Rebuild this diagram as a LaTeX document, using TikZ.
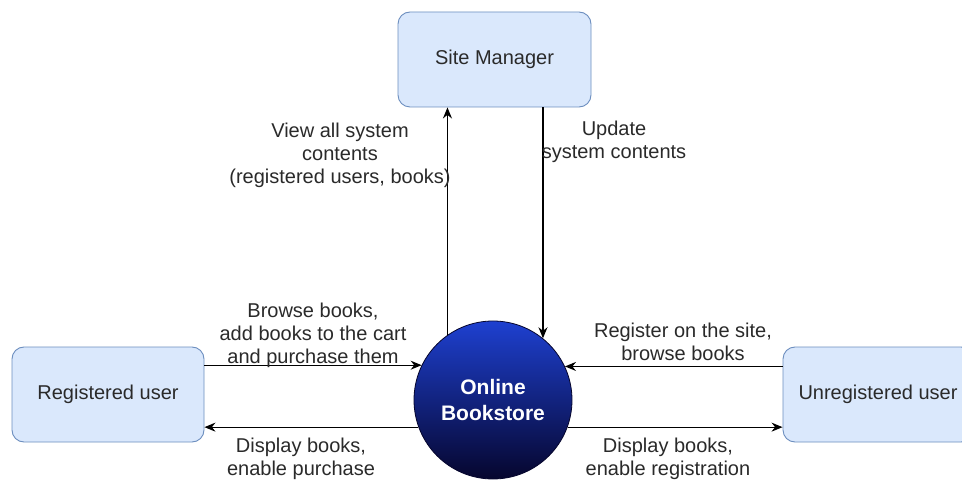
\documentclass[tikz,border=0pt]{standalone}
\usepackage{fontspec}
\setmainfont{Liberation Sans}
\usetikzlibrary{arrows.meta}
\definecolor{boxfill}{HTML}{DAE8FC}
\definecolor{boxline}{HTML}{6C8EBF}
\definecolor{txt}{HTML}{2A2A2A}
\definecolor{circtop}{HTML}{1E40D0}
\definecolor{circbot}{HTML}{06062E}
\begin{document}
\begin{tikzpicture}[x=1pt,y=-1pt,
  entity/.style={draw=boxline, fill=boxfill, rounded corners=12pt, line width=0.9pt,
    minimum height=95pt, text=txt, font=\fontsize{20}{23}\selectfont, inner sep=0pt},
  lbl/.style={align=center, text=txt, font=\fontsize{20}{23}\selectfont, inner sep=0pt},
  flow/.style={draw=black, line width=1.1pt, -{Stealth[length=11pt,width=9pt]}}
]
\useasboundingbox (0,0) rectangle (962,481);
\fill[white] (0,0) rectangle (962,481);

\node[entity, minimum width=193pt] (sm) at (494.5,59.5) {Site Manager};
\node[entity, minimum width=192pt] (reg) at (108,394.5) {Registered user};
\node[entity, minimum width=190pt] (unreg) at (878,394.5) {Unregistered user};

\node[circle, minimum size=158pt, inner sep=0pt, draw=circbot, line width=0.8pt,
  top color=circtop, bottom color=circbot, text=white, align=center,
  font=\fontsize{21}{26}\selectfont\bfseries] (bs) at (493,400) {Online\\Bookstore};

% vertical flows
\draw[flow] (bs.125.6) -- (bs.125.6 |- sm.south);
\draw[flow] (bs.51.7 |- sm.south) -- (bs.51.7);
% horizontal flows
\draw[flow] (bs.154.5 -| reg.east) -- (bs.154.5);
\draw[flow] (bs.200.7) -- (bs.200.7 -| reg.east);
\draw[flow] (bs.25.5 -| unreg.west) -- (bs.25.5);
\draw[flow] (bs.-20.7) -- (bs.-20.7 -| unreg.west);

% labels
\node[lbl] (l1) at (340,155) {View all system\\contents\\(registered users, books)};
\node[lbl] (l2) at (614,142) {Update\\system contents};
\node[lbl] (l3) at (313,335) {Browse books,\\add books to the cart\\and purchase them};
\node[lbl] (l4) at (683,341.5) {Register on the site,\\browse books};
\node[lbl] (l5) at (301,458.5) {Display books,\\enable purchase};
\node[lbl] (l6) at (668,458.5) {Display books,\\enable registration};
\end{tikzpicture}
\end{document}
